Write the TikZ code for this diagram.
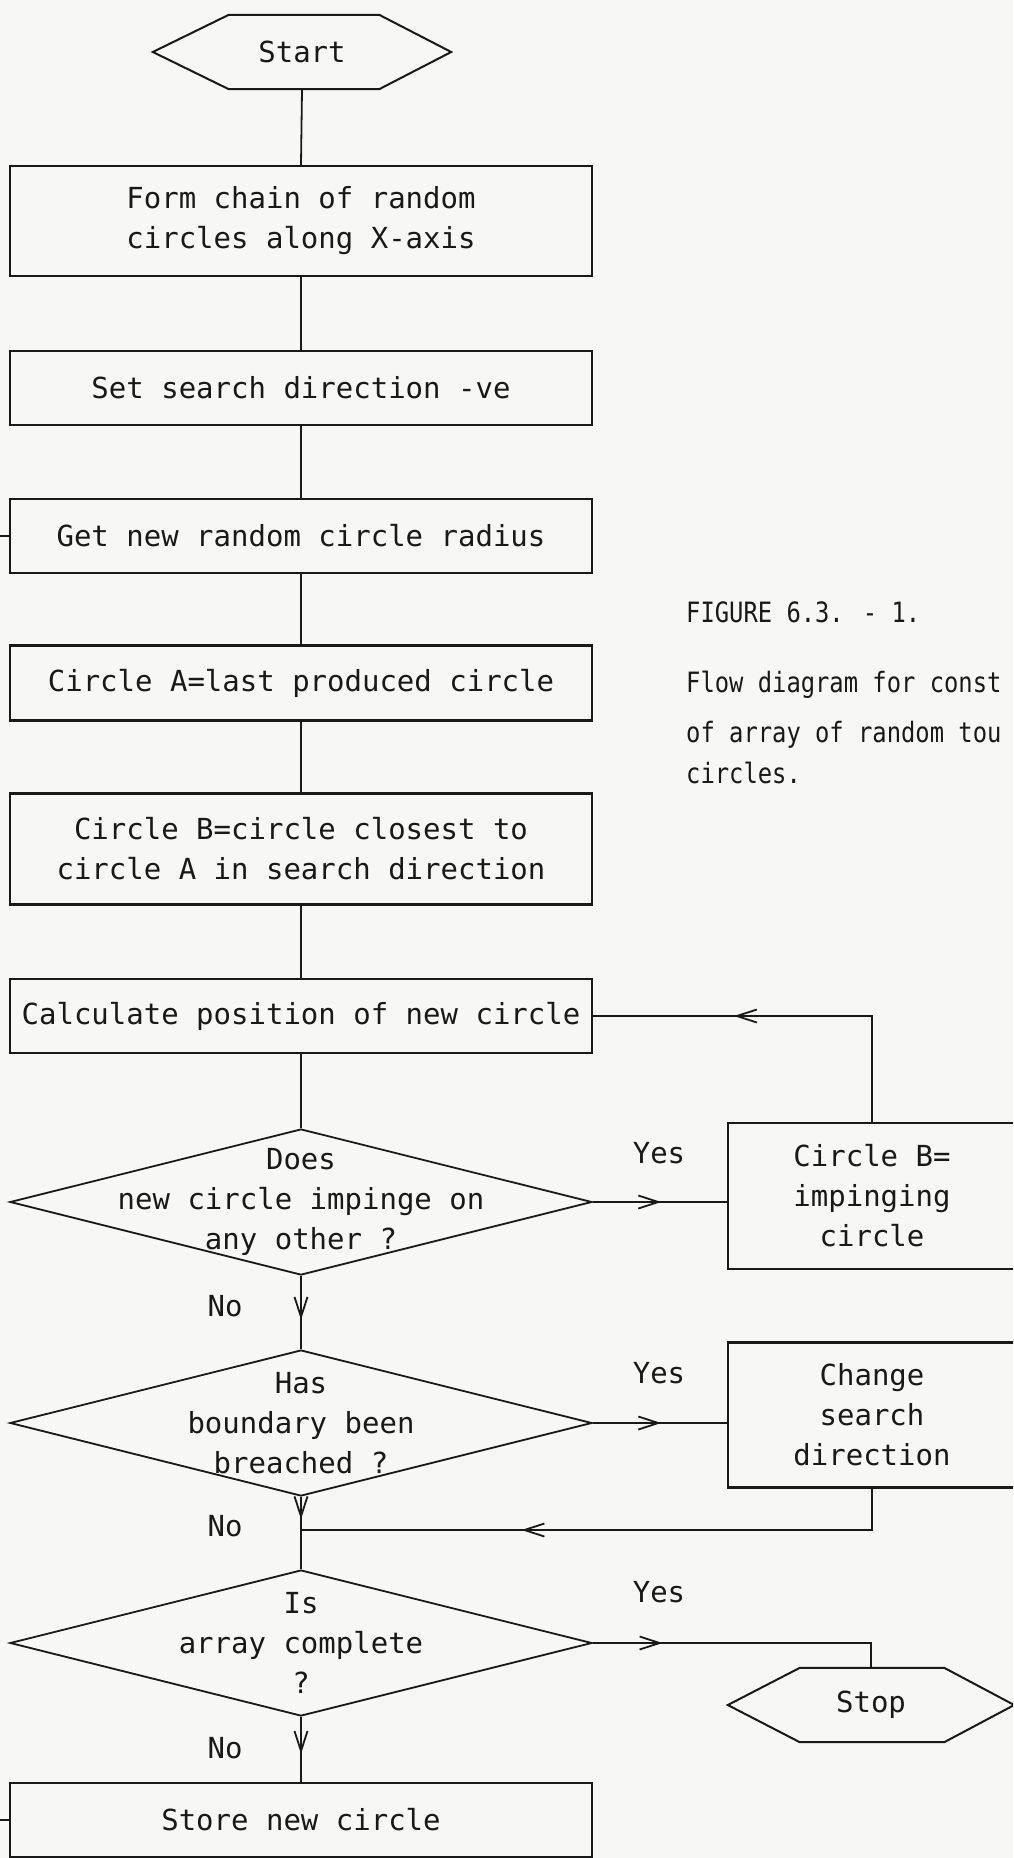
\documentclass[tikz,border=0pt]{standalone}
\usepackage{fontspec}
\newfontfamily\plotfont{DejaVu Sans Mono}
\newfontfamily\capfont[FakeStretch=0.85]{DejaVu Sans Mono}
\usetikzlibrary{arrows.meta,decorations.markings,calc,shapes.geometric}
\definecolor{ink}{RGB}{25,25,25}
\definecolor{paper}{RGB}{247,247,245}
\begin{document}
\begin{tikzpicture}[x=1pt,y=-1pt,
  txt/.style={font=\plotfont\fontsize{29}{40}\selectfont, text=ink, align=center, inner sep=0pt},
  box/.style={txt, draw=ink, line width=2.2pt, minimum width=582pt},
  dia/.style={diamond, draw=ink, line width=1.8pt, inner sep=0pt, minimum width=582pt, minimum height=146pt},
  hexnode/.style={txt, minimum width=#1, minimum height=74pt},
  hexline/.style={draw=ink, line width=2pt, line join=miter},
  conn/.style={draw=ink, line width=1.8pt},
  midarrow/.style={postaction={decorate}, decoration={markings, mark=at position #1 with {\arrow{Straight Barb[length=20pt,width=13pt,line width=1.8pt]}}}},
  lbl/.style={txt},
  captxt/.style={font=\capfont\fontsize{28}{30}\selectfont, text=ink, inner sep=0pt, anchor=base west}
]
\useasboundingbox (0,0) rectangle (1013,1858);
\clip (0,0) rectangle (1013,1858);
\fill[paper] (0,0) rectangle (1013,1858);

% start / stop terminals
\node[hexnode=298pt] (start) at (302,52) {Start};
\draw[hexline] (start.west) -- ($(start.north west)+(76,0)$) -- ($(start.north east)+(-72,0)$) -- (start.east) -- ($(start.south east)+(-72,0)$) -- ($(start.south west)+(76,0)$) -- cycle;

\node[hexnode=286pt] (stop) at (871,1705) {Stop};
\draw[hexline] (stop.west) -- ($(stop.north west)+(72,0)$) -- ($(stop.north east)+(-70,0)$) -- (stop.east) -- ($(stop.south east)+(-70,0)$) -- ($(stop.south west)+(72,0)$) -- cycle;

% process boxes
\node[box, minimum height=110pt] (b1) at (301,221) {Form chain of random\\circles along X-axis};
\node[box, minimum height=74pt] (b2) at (301,388) {Set search direction -ve};
\node[box, minimum height=74pt] (b3) at (301,536) {Get new random circle radius};
\node[box, minimum height=75pt] (b4) at (301,683) {Circle A=last produced circle};
\node[box, minimum height=111pt] (b5) at (301,849) {Circle B=circle closest to\\circle A in search direction};
\node[box, minimum height=74pt] (b6) at (301,1016) {Calculate position of new circle};
\node[box, minimum height=74pt] (st) at (301,1820) {Store new circle};

\node[box, minimum width=288pt, minimum height=146pt] (cb) at (872,1196) {Circle B=\\impinging\\circle};
\node[box, minimum width=288pt, minimum height=145pt] (cd) at (872,1415) {Change\\search\\direction};

% decisions
\node[dia] (d1) at (301,1202) {};
\node[txt] (d1t) at (d1.center) {Does\\new circle impinge on\\any other ?};
\node[dia] (d2) at (301,1423) {};
\node[txt] (d2t) at (d2.center) {Has\\boundary been\\breached ?};
\node[dia] (d3) at (301,1643) {};
\node[txt] (d3t) at (d3.center) {Is\\array complete\\?};

% labels
\node[lbl] (y1) at (659,1153) {Yes};
\node[lbl] (y2) at (659,1373) {Yes};
\node[lbl] (y3) at (659,1592) {Yes};
\node[lbl] (n1) at (225,1306) {No};
\node[lbl] (n2) at (225,1526) {No};
\node[lbl] (n3) at (225,1748) {No};

% caption
\node[captxt] (fig) at (686,622) {FIGURE 6.3. - 1.};
\node[captxt] (c1) at (686,692) {Flow diagram for const};
\node[captxt] (c2) at (686,742) {of array of random tou};
\node[captxt] (c3) at (686,783) {circles.};

% connectors
\draw[conn] (start.south) -- (b1.north);
\draw[conn] (b1.south) -- (b2.north);
\draw[conn] (b2.south) -- (b3.north);
\draw[conn] (b3.south) -- (b4.north);
\draw[conn] (b4.south) -- (b5.north);
\draw[conn] (b5.south) -- (b6.north);
\draw[conn] (b6.south) -- (d1.north);

\draw[conn, midarrow=0.51] (d1.east) -- (d1.east -| cb.west);
\draw[conn, midarrow=0.634] (cb.north) |- (b6.east);
\draw[conn, midarrow=0.6] (d1.south) -- (d2.north);

\draw[conn, midarrow=0.51] (d2.east) -- (d2.east -| cd.west);
\draw[conn, midarrow=0.31] (d2.south) -- (d3.north);
\coordinate (join) at (301,1530);
\draw[conn, midarrow=0.64] (cd.south) |- (join);

\draw[conn, midarrow=0.23] (d3.east) -| (stop.north);
\draw[conn, midarrow=0.57] (d3.south) -- (st.north);

% loop-back stubs leaving the left edge
\coordinate (edgeL) at (-6,0);
\draw[conn] (b3.west) -- (b3.west -| edgeL);
\draw[conn] (st.west) -- (st.west -| edgeL);
\end{tikzpicture}
\end{document}
